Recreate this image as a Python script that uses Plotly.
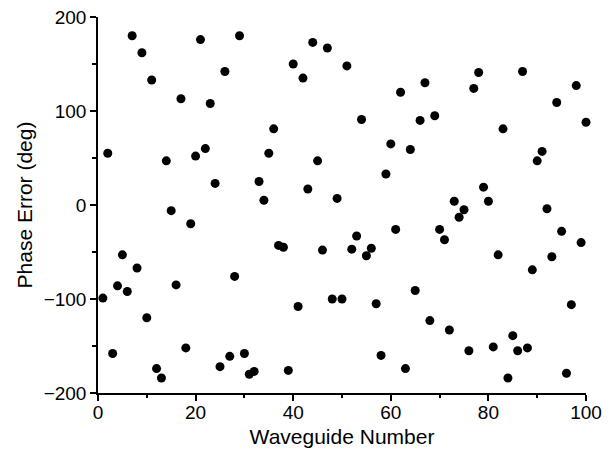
import plotly.graph_objects as go

waveguide = list(range(1, 101))
phase_error = [
    -99, 55, -158, -86, -53, -92, 180, -67, 162, -120,
    133, -174, -184, 47, -6, -85, 113, -152, -20, 52,
    176, 60, 108, 23, -172, 142, -161, -76, 180, -158,
    -180, -177, 25, 5, 55, 81, -43, -45, -176, 150,
    -108, 135, 17, 173, 47, -48, 167, -100, 7, -100,
    148, -47, -33, 91, -54, -46, -105, -160, 33, 65,
    -26, 120, -174, 59, -91, 90, 130, -123, 95, -26,
    -37, -133, 4, -13, -5, -155, 124, 141, 19, 4,
    -151, -53, 81, -184, -139, -155, 142, -152, -69, 47,
    57, -4, -55, 109, -28, -179, -106, 127, -40, 88,
]
x_ticks = [0, 20, 40, 60, 80, 100]
y_ticks = [-200, -100, 0, 100, 200]


def label(v):
    return str(v).replace("-", "\u2212")


fig = go.Figure(go.Scatter(
    x=waveguide, y=phase_error, mode="markers",
    marker=dict(size=9, color="black"),
    cliponaxis=False,
))

font = "Liberation Sans, Arial, sans-serif"
fig.update_layout(
    width=616, height=463,
    margin=dict(l=98, r=30, t=17, b=70),
    paper_bgcolor="white", plot_bgcolor="white",
    showlegend=False,
    font=dict(family=font, color="black"),
)
fig.update_xaxes(
    range=[0, 100], tickvals=x_ticks, ticktext=[label(v) for v in x_ticks],
    showgrid=False, zeroline=False, showline=True, linecolor="black", linewidth=1.5,
    ticks="outside", ticklen=6, tickwidth=1.5, tickcolor="black",
    tickfont=dict(size=19), automargin=False, ticklabelstandoff=-5,
    minor=dict(dtick=10, ticks="outside", ticklen=3, tickwidth=1.5, tickcolor="black"),
    title=dict(text="Waveguide Number", font=dict(size=21), standoff=8),
)
fig.update_yaxes(
    range=[-200, 200], tickvals=y_ticks, ticktext=[label(v) for v in y_ticks],
    showgrid=False, zeroline=False, showline=True, linecolor="black", linewidth=1.5,
    ticks="outside", ticklen=6, tickwidth=1.5, tickcolor="black",
    tickfont=dict(size=19), automargin=False,
    minor=dict(dtick=50, ticks="outside", ticklen=4, tickwidth=1.5, tickcolor="black"),
    title=dict(text="Phase Error (deg)", font=dict(size=21), standoff=5),
)

fig.write_html(
    "out.html",
    config={"displayModeBar": False},
    post_script="document.body.style.margin='0';document.body.style.overflow='hidden';",
)
